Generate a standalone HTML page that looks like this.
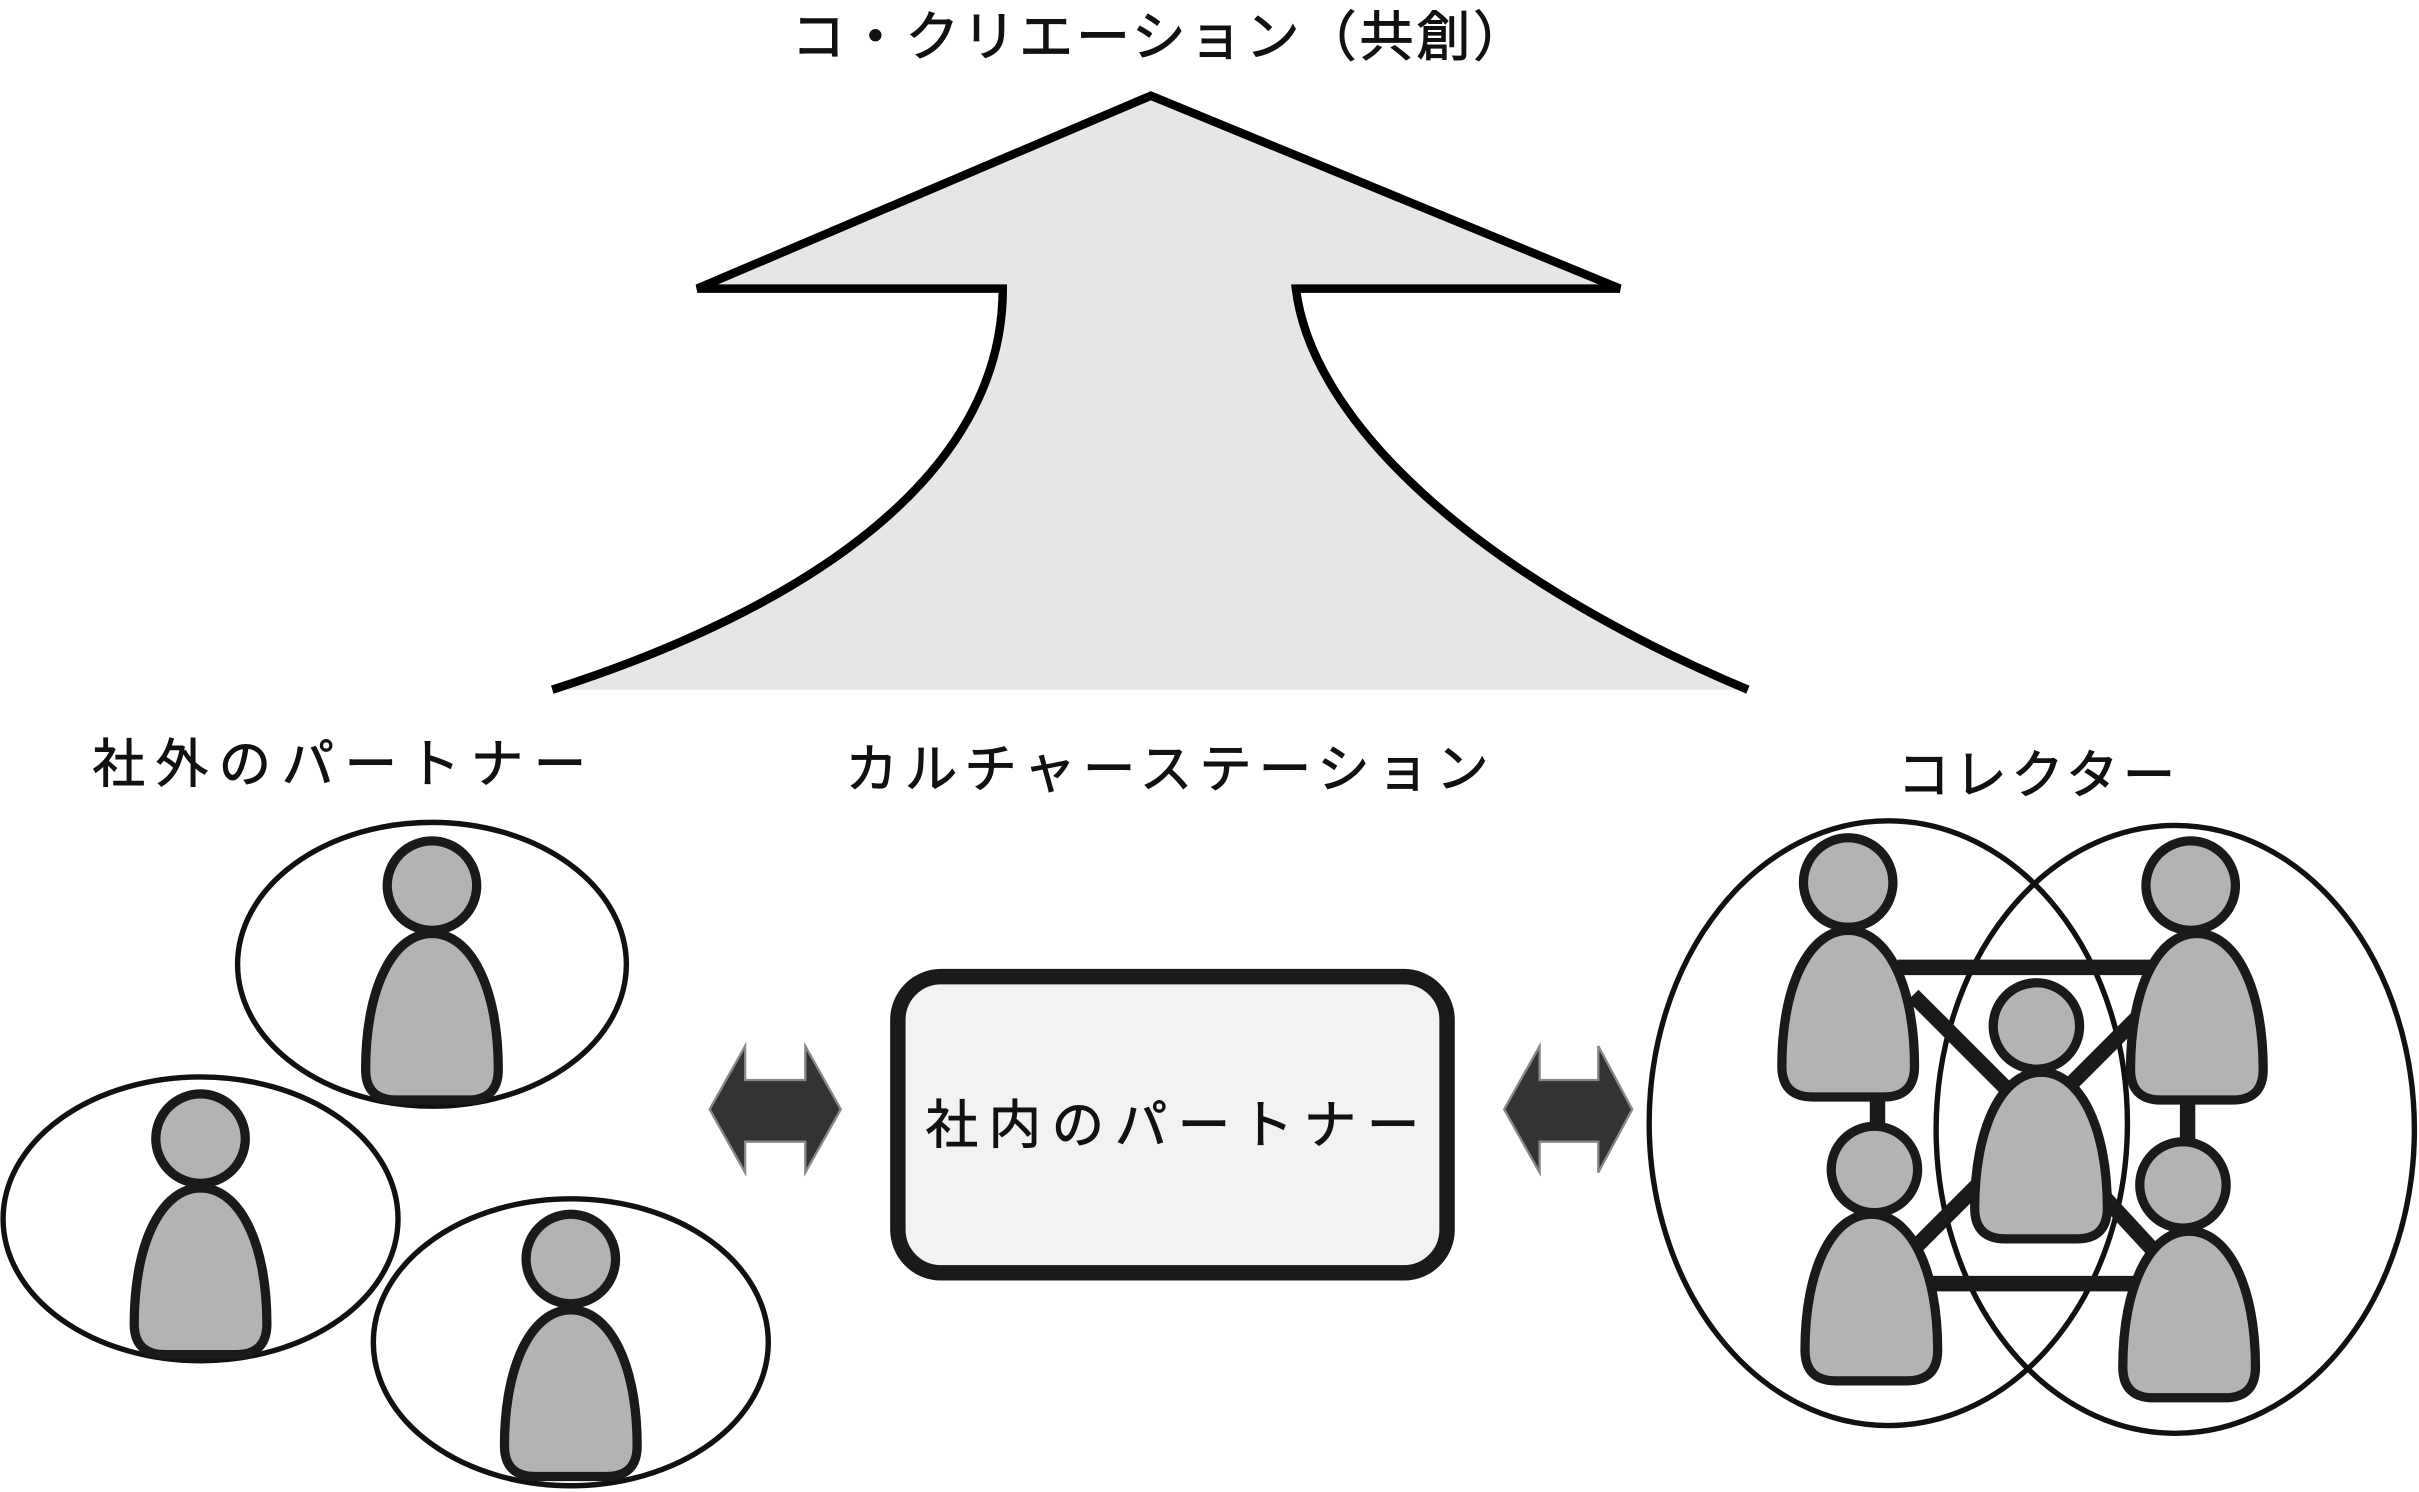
<!DOCTYPE html>
<html><head><meta charset="utf-8"><style>
html,body{margin:0;padding:0;background:#fff;}
svg{display:block}
text{font-family:"Liberation Sans","Noto Sans CJK JP",sans-serif;fill:#111;stroke:#111;stroke-width:0.6;}
</style></head><body>
<svg width="2419" height="1492" viewBox="0 0 1568 967" xmlns="http://www.w3.org/2000/svg">
<defs>
<g id="body"><path d="M-43,88 C-43,35 -25,0 0,0 C25,0 43,35 43,88 Q43,108 23,108 L-23,108 Q-43,108 -43,88 Z" fill="#b3b3b3" stroke="#1a1a1a" stroke-width="6"/></g>
</defs>
<path d="M358,447 C520,395 650,310 650,187 L452,187 L746,62 L1050,187 L840,187 C850,270 950,370 1133,447 Z" fill="#e6e6e6" stroke="none"/>
<path d="M358,447 C520,395 650,310 650,187 L452,187 L746,62 L1050,187 L840,187 C850,270 950,370 1133,447" fill="none" stroke="#000" stroke-width="5.5"/>
<text x="513" y="36" font-size="35" textLength="477" lengthAdjust="spacing">コ・クリエーション（共創）</text>
<text x="60" y="507" font-size="34" textLength="320" lengthAdjust="spacing">社外のパートナー</text>
<text x="548" y="510" font-size="34" textLength="417" lengthAdjust="spacing">カルチャーステーション</text>
<text x="1230" y="514" font-size="34" textLength="180" lengthAdjust="spacing">コレクター</text>
<g fill="#fff" stroke="#111" stroke-width="3.5">
<ellipse cx="280" cy="625" rx="126" ry="92"/>
<ellipse cx="130" cy="790" rx="128" ry="92"/>
<ellipse cx="370" cy="870" rx="128" ry="93"/>
</g>
<g fill="#b3b3b3" stroke="#1a1a1a" stroke-width="6">
<use href="#body" x="280" y="605"/><circle cx="280" cy="574" r="29"/>
<use href="#body" x="130" y="770"/><circle cx="130" cy="738" r="29"/>
<use href="#body" x="370" y="849"/><circle cx="370" cy="816" r="29"/>
</g>
<rect x="582" y="633" width="356" height="192" rx="28" fill="#f2f2f2" stroke="#1a1a1a" stroke-width="10"/>
<text x="600" y="741" font-size="34" textLength="320" lengthAdjust="spacing">社内のパートナー</text>
<path d="M460,719 L483,678 L483,700 L522,700 L522,678 L545,719 L522,760 L522,740 L483,740 L483,760 Z" fill="#333" stroke="#888" stroke-width="1.5"/>
<path d="M975,719 L998,678 L998,700 L1036,700 L1036,678 L1058,719 L1036,760 L1036,740 L998,740 L998,760 Z" fill="#333" stroke="#888" stroke-width="1.5"/>
<g fill="none" stroke="#111" stroke-width="3.5">
<ellipse cx="1224" cy="728" rx="155" ry="196"/>
<ellipse cx="1410" cy="732" rx="155" ry="197"/>
</g>
<g stroke="#1a1a1a" stroke-width="10">
<line x1="1230" y1="627" x2="1400" y2="627"/>
<line x1="1240" y1="832" x2="1395" y2="832"/>
<line x1="1240" y1="645" x2="1310" y2="715"/>
<line x1="1400" y1="645" x2="1330" y2="715"/>
<line x1="1240" y1="810" x2="1300" y2="750"/>
<line x1="1400" y1="815" x2="1340" y2="750"/>
<line x1="1217" y1="705" x2="1217" y2="735"/>
<line x1="1418" y1="705" x2="1418" y2="745"/>
</g>
<g fill="#b3b3b3" stroke="#1a1a1a" stroke-width="6">
<use href="#body" x="1198" y="603"/><circle cx="1198" cy="572" r="29"/>
<use href="#body" x="1424" y="605"/><circle cx="1420" cy="574" r="29"/>
<use href="#body" x="1213" y="787"/><circle cx="1215" cy="758" r="28"/>
<use href="#body" x="1419" y="798"/><circle cx="1415" cy="768" r="28"/>
<use href="#body" x="1323" y="695"/><circle cx="1320" cy="665" r="28"/>
</g>
</svg>
</body></html>
